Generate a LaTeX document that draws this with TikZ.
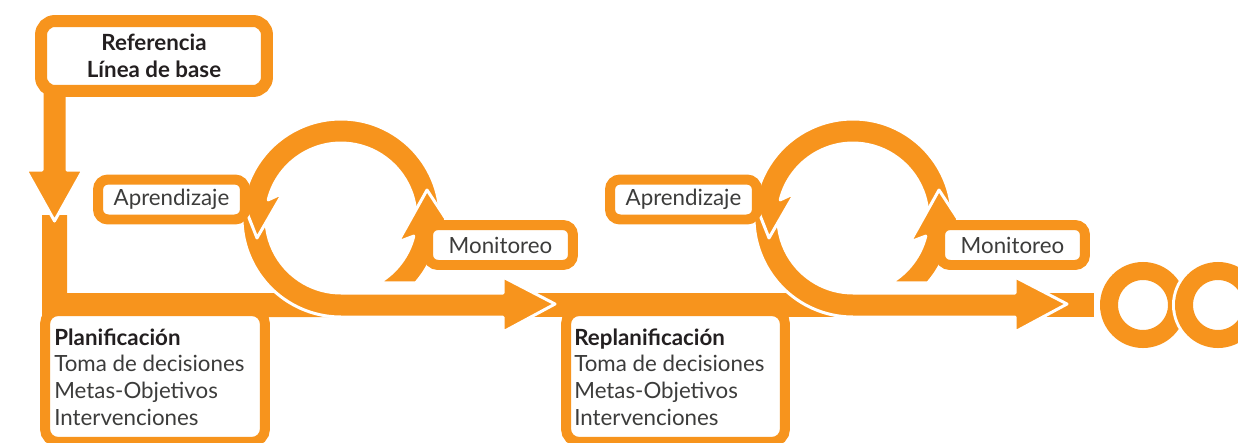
\documentclass[tikz,border=0pt]{standalone}
\usepackage{fontspec}
\setmainfont{Lato}

\definecolor{naranja}{HTML}{F7941D}
\definecolor{tinta}{HTML}{3C3C3B}
\definecolor{negro}{HTML}{231F20}

\begin{document}
\begin{tikzpicture}[x=0.02cm, y=-0.02cm,
	forma/.style={fill=naranja, draw=white, line width=0.06cm, line join=round},
	caja/.style={draw=naranja, fill=white, line width=0.2cm, rounded corners=0.2cm, inner sep=0pt, text=tinta, font=\fontsize{12.7}{15.1}\selectfont},
	texto/.style={anchor=west, align=left, inner sep=0pt, text=tinta, font=\fontsize{12.7}{15.1}\selectfont},
	anillo/.style={draw=white, double=naranja, double distance=0.36cm, line width=0.06cm}]

		\useasboundingbox (0,0) rectangle (1238,443);
		\clip (0,0) rectangle (1238,443);

		% Draw the bands under the loops
		\fill[naranja] (42,215) -- (42,317) -- (335,317) -- (335,293) -- (67,293) -- (67,215) -- cycle;
		\fill[naranja] (530,293) rectangle (847,317);
		\fill[naranja] (1040,293) rectangle (1094,317);

		% Draw the stem arrow
		\filldraw[forma] (42,88) -- (42,170) -- (26,170) -- (54.5,221) -- (83,170) -- (67,170) -- (67,88) -- cycle;

		\node[caja, line width=0.24cm, rounded corners=0.28cm, minimum width=4.52cm, minimum height=1.4cm, align=center, text=negro, font=\fontsize{12.7}{15.3}\selectfont\bfseries] (ref) at (154,56) {Referencia\\Línea de base};

		% Planning boxes
		\node[caja, rounded corners=0.26cm, minimum width=4.4cm, minimum height=2.62cm] (plan) at (155,376.5) {};
		\node[texto] (plantxt) at (54,377) {\textcolor{negro}{\bfseries Planificación}\\Toma de decisiones\\Metas-Objetivos\\Intervenciones};

		\node[caja, rounded corners=0.26cm, minimum width=4.38cm, minimum height=2.62cm] (replan) at (675.5,376.5) {};
		\node[texto] (replantxt) at (574,377) {\textcolor{negro}{\bfseries Replanificación}\\Toma de decisiones\\Metas-Objetivos\\Intervenciones};

		% Draw the two loops
		\foreach \dx/\i in {0/1, 512/2}{
			\begin{scope}[shift={(\dx,0)}]
				\coordinate (c\i) at (341,218);
				% arc down into the big arrow
				\filldraw[forma] (c\i) ++(185:99) arc[start angle=185, end angle=90, radius=99] -- (503,317) -- (503,332) -- (555,304) -- (503,277) -- (503,293) -- (341,293) arc[start angle=90, end angle=185, radius=75] -- cycle;
				% arc over the top
				\filldraw[forma] (c\i) ++(-3:99) arc[start angle=-3, end angle=-172, radius=99] -- (234,180) -- (257,238) -- (283,193) -- (268.2,199.9) arc[start angle=-166, end angle=-3, radius=75] -- cycle;
				% arc up the right side
				\filldraw[forma] (c\i) ++(41:99) arc[start angle=41, end angle=8, radius=99] -- (446,219) -- (427,190) -- (398,242) -- (413.8,236.1) arc[start angle=14, end angle=60, radius=75] -- cycle;

				\node[caja, minimum width=2.94cm, minimum height=0.8cm] (apr\i) at (171.5,199.5) {Aprendizaje};
				\node[caja, minimum width=2.9cm, minimum height=0.8cm] (mon\i) at (500.5,245) {Monitoreo};
			\end{scope}
		}

		% Draw the infinity sign
		\draw[anillo] (1143,305) circle[radius=34];
		\draw[anillo] (1218,305) circle[radius=34];

	\end{tikzpicture}
\end{document}
